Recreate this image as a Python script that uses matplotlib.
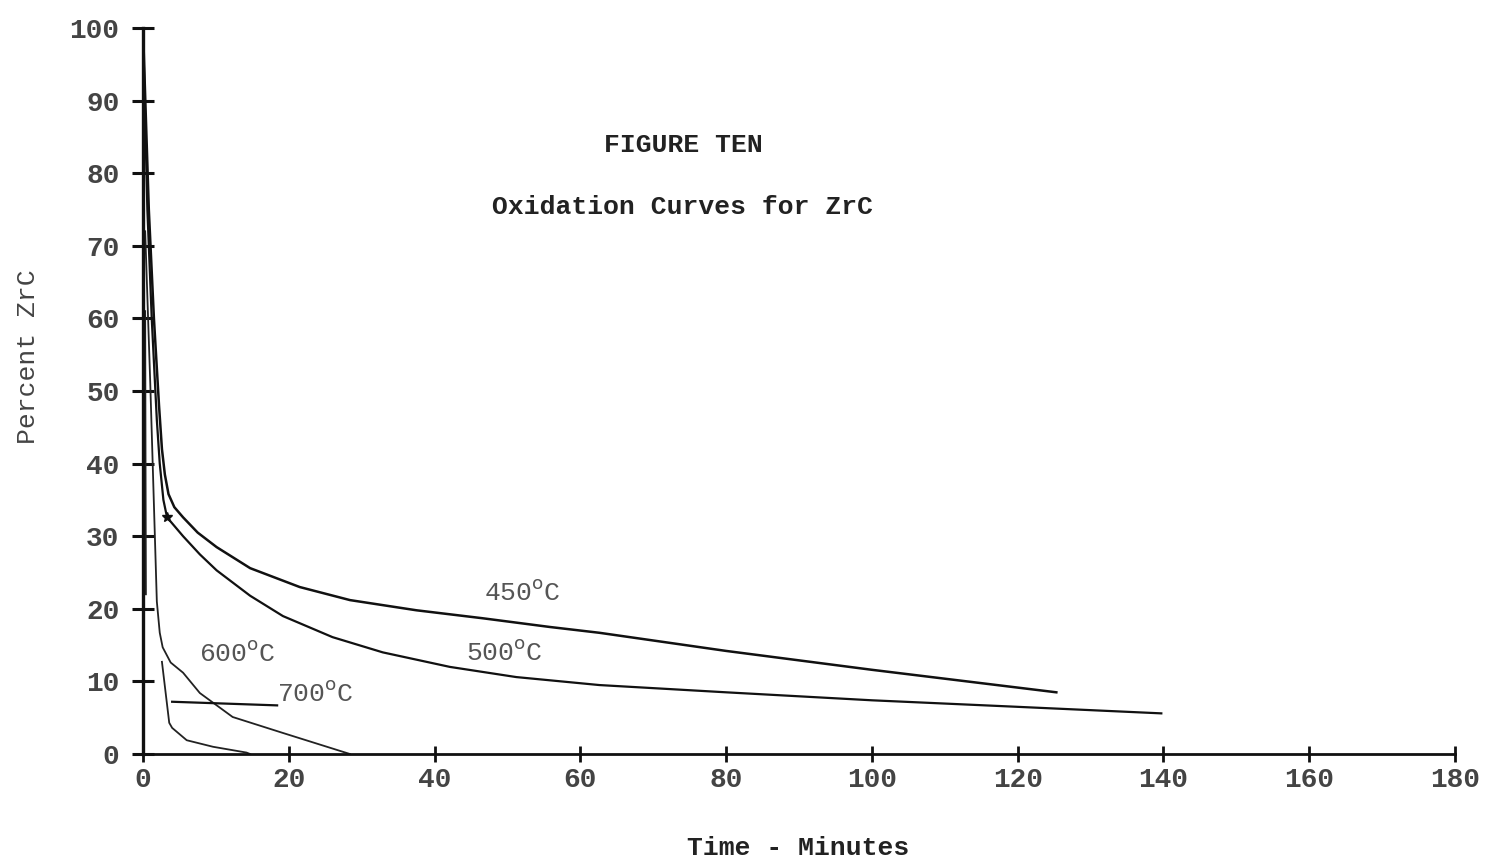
import numpy as np
import matplotlib
matplotlib.use("Agg")
import matplotlib.pyplot as plt

# values (time in minutes, percent ZrC)
t_450 = [0, 0.8, 1.5, 2.2, 2.6, 3.0, 3.5, 4.3, 5.5, 7.5, 10.1, 14.7, 21.5, 28.4, 37.5, 46.6, 55.8, 62.6, 80, 100, 125.3]
p_450 = [100, 75, 60, 48, 42, 38.5, 35.8, 34.0, 32.6, 30.5, 28.5, 25.6, 23.0, 21.2, 19.8, 18.7, 17.5, 16.7, 14.2, 11.6, 8.5]

t_500 = [0, 0.6, 1.2, 1.9, 2.3, 2.8, 3.3, 5.5, 7.8, 10.1, 14.7, 19.2, 26.0, 32.9, 42.1, 51.2, 62.6, 80, 100, 120, 139.7]
p_500 = [100, 75, 60, 46, 40, 35, 32.6, 30.0, 27.5, 25.3, 21.8, 19.0, 16.1, 14.0, 12.0, 10.6, 9.5, 8.5, 7.4, 6.5, 5.6]

t_600 = [0.3, 1.0, 1.9, 2.3, 2.7, 3.8, 5.5, 7.8, 12.3, 19.2, 28.4]
p_600 = [72, 51, 21, 16.7, 14.7, 12.6, 11.2, 8.4, 5.1, 2.9, 0]

# the 700 C trace is broken in the original drawing (NaN keeps the gap)
t_700 = [0.3, 0.35, 0.4, np.nan, 2.6, 3.6, 4.0, 6.0, 9.6, 14.2, 14.7]
p_700 = [61, 40, 22, np.nan, 12.7, 4.3, 3.6, 1.9, 1.0, 0.2, 0]

curve_labels = ["450$^{\\rm o}$C", "500$^{\\rm o}$C", "600$^{\\rm o}$C", "700$^{\\rm o}$C"]
label_t = [52, 49.6, 12.9, 23.7]
label_p = [22.2, 14.0, 13.9, 8.4]
leader_700_t = [4.0, 18.4]
leader_700_p = [7.2, 6.7]

x_ticks = list(range(0, 181, 20))
y_ticks = list(range(0, 101, 10))

mono = ["Liberation Mono", "DejaVu Sans Mono"]

fig = plt.figure(figsize=(14.91, 8.66), dpi=100)
ax = fig.add_axes([0.0959, 0.1293, 0.88, 0.8384])

ink = "#111111"
ax.plot(t_450, p_450, color=ink, lw=1.8)
ax.plot(t_500, p_500, color=ink, lw=1.6)
ax.plot(t_600, p_600, color="#222222", lw=1.3)
ax.plot(t_700, p_700, color="#222222", lw=1.3)
ax.plot(leader_700_t, leader_700_p, color=ink, lw=1.6)
ax.plot([3.3], [32.6], marker="*", color=ink, ms=7)

for txt, x, y in zip(curve_labels, label_t, label_p):
    ax.text(x, y, txt, ha="center", va="center", fontsize=19,
            color="#555555", family=mono)

ax.set_xlim(0, 180)
ax.set_ylim(0, 100)
ax.set_xticks(x_ticks)
ax.set_yticks(y_ticks)
ax.set_xticklabels([str(v) for v in x_ticks], family=mono, fontsize=20,
                   fontweight="bold", color="#444444")
ax.set_yticklabels([str(v) for v in y_ticks], family=mono, fontsize=20,
                   fontweight="bold", color="#444444")
ax.tick_params(axis="y", direction="inout", length=16, width=2.2, pad=9, color=ink)
ax.tick_params(axis="x", direction="inout", length=11, width=2.0, pad=4, color=ink)

for side in ["top", "right"]:
    ax.spines[side].set_visible(False)
ax.spines["left"].set_linewidth(2.4)
ax.spines["bottom"].set_linewidth(2.0)
ax.spines["left"].set_color(ink)
ax.spines["bottom"].set_color(ink)
ax.patch.set_alpha(0)

fig.text(683 / 1491, 1 - 145 / 866, "FIGURE TEN", ha="center", va="center",
         fontsize=19, fontweight="bold", family=mono, color="#222222")
fig.text(683 / 1491, 1 - 207 / 866, "Oxidation Curves for ZrC", ha="center",
         va="center", fontsize=19, fontweight="bold", family=mono, color="#222222")
fig.text(798 / 1491, 1 - 848 / 866, "Time - Minutes", ha="center", va="center",
         fontsize=19, fontweight="bold", family=mono, color="#222222")
fig.text(28 / 1491, 1 - 357 / 866, "Percent ZrC", ha="center", va="center",
         rotation=90, fontsize=19, family=mono, color="#444444")

fig.savefig("out.png", dpi=100)
